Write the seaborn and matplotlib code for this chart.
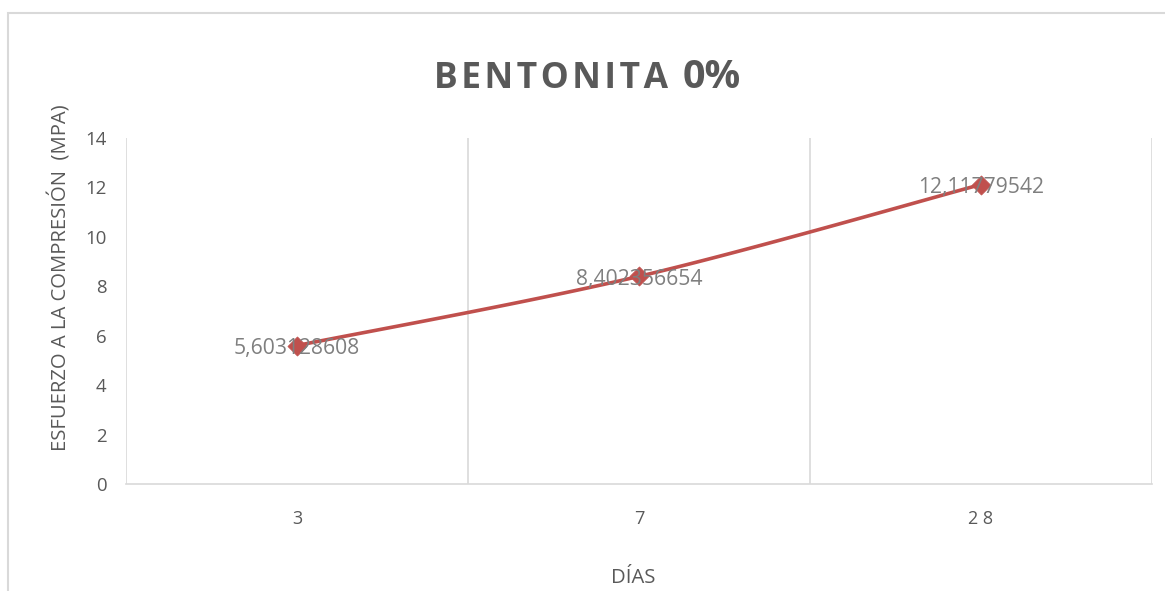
import numpy as np
import pandas as pd
import matplotlib
matplotlib.use("Agg")
import matplotlib.pyplot as plt
from matplotlib.patches import Rectangle
import seaborn as sns

# Compressive strength by curing age
dias = ["3", "7", "28"]
dias_etiqueta = ["3", "7", "2 8"]
esfuerzo = [5.603128608, 8.402356654, 12.11779542]
etiquetas = ["5,603128608", "8,402356654", "12,11779542"]
y_ticks = [0, 2, 4, 6, 8, 10, 12, 14]

sns.set_theme(style="white")
plt.rcParams["font.family"] = ["Open Sans", "DejaVu Sans"]

RED = "#C0504D"
TXT = "#595959"
GRID = "#D9D9D9"

W, H = 1165, 591
fig = plt.figure(figsize=(W / 100, H / 100), dpi=100)
ax = fig.add_axes([126 / W, 1 - 484 / H, (1152 - 126) / W, (484 - 138) / H])

df = pd.DataFrame({"dia": np.arange(len(dias)), "esfuerzo": esfuerzo})

# Smoothed connecting line (Catmull-Rom through the points, in screen-like units)
sx, sy = 342.0, 24.71
px = df["dia"].to_numpy() * sx
py = df["esfuerzo"].to_numpy() * sy
P = np.column_stack([px, py])
Pext = np.vstack([P[0], P, P[-1]])
curve = []
for i in range(1, len(Pext) - 2):
    p0, p1, p2, p3 = Pext[i - 1], Pext[i], Pext[i + 1], Pext[i + 2]
    c1 = p1 + (p2 - p0) / 6.0
    c2 = p2 - (p3 - p1) / 6.0
    t = np.linspace(0, 1, 60)[:, None]
    seg = (1 - t) ** 3 * p1 + 3 * (1 - t) ** 2 * t * c1 + 3 * (1 - t) * t ** 2 * c2 + t ** 3 * p2
    curve.append(seg)
curve = np.vstack(curve)
suave = pd.DataFrame({"x": curve[:, 0] / sx, "y": curve[:, 1] / sy})
sns.lineplot(data=suave, x="x", y="y", ax=ax, color=RED, linewidth=2.6,
             sort=False, estimator=None)
sns.scatterplot(data=df, x="dia", y="esfuerzo", ax=ax, marker="D", s=95,
                color=RED, edgecolor=RED, linewidth=0.5, zorder=5)

for xi, yi, lab in zip(df["dia"], esfuerzo, etiquetas):
    ax.text(xi, yi - 0.12, lab, ha="center", va="center", fontsize=15.2,
            color="#7F7F7F", zorder=6)

ax.set_xlim(-0.5, len(dias) - 0.5)
ax.set_ylim(0, 14)
ax.set_yticks(y_ticks)
ax.set_yticklabels([str(v) for v in y_ticks], fontsize=13.4, color=TXT)
ax.set_xticks(df["dia"])
ax.set_xticklabels(dias_etiqueta, fontsize=13, color=TXT)
ax.tick_params(axis="both", length=0)
ax.tick_params(axis="y", pad=14)
ax.tick_params(axis="x", pad=19)

# vertical gridlines on category boundaries
for b in np.arange(-0.5, len(dias), 1.0):
    ax.axvline(b, color=GRID, linewidth=1.2, zorder=0)
for s in ["top", "right", "left"]:
    ax.spines[s].set_visible(False)
ax.spines["bottom"].set_color(GRID)
ax.spines["bottom"].set_linewidth(1.2)

ax.set_xlabel("DÍAS", fontsize=14.6, color=TXT)
ax.xaxis.set_label_coords((633 - 126) / 1026, -(578 - 484) / 346)
ax.xaxis.label.set_va("center")
ax.set_ylabel("ESFUERZO A LA COMPRESIÓN  (MPA)", fontsize=14.6, color=TXT)
ax.yaxis.set_label_coords((60 - 126) / 1026, (484 - 278) / 346)
ax.yaxis.label.set_va("center")

# title: tracked word plus a slightly larger percentage
fig.text(668 / W, 1 - 74 / H, "B\u200aE\u200aN\u200aT\u200aO\u200aN\u200aI\u200aT\u200aA",
         ha="right", va="baseline", fontsize=25.5, fontweight="bold", color=TXT,
         transform=fig.transFigure).set_y(1 - 88 / H)
fig.text(683 / W, 1 - 88 / H, "0%", ha="left", va="baseline", fontsize=28.5,
         fontweight="bold", color=TXT)

# chart frame
fig.patches.append(Rectangle((8 / W, -0.1), 1.2, 1.1 - 13 / H, transform=fig.transFigure,
                             fill=False, edgecolor=GRID, linewidth=1.5))

fig.savefig("out.png", dpi=100, facecolor="white")
